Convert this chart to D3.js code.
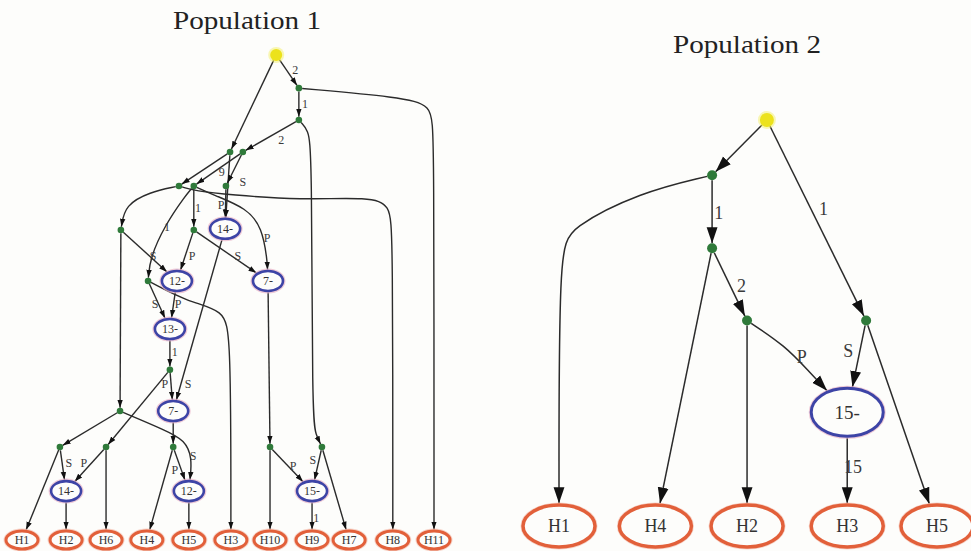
<!DOCTYPE html>
<html><head><meta charset="utf-8">
<script src="https://cdn.jsdelivr.net/npm/d3@7"></script>
<style>body{margin:0;background:#fdfdfb}svg{display:block}</style>
</head><body>
<svg id="c" width="971" height="551"></svg>
<script>
// ---------------- DATA ----------------
const titles = ["Population 1", "Population 2"];

// Population 1
const leaves1 = ["H1","H2","H6","H4","H5","H3","H10","H9","H7","H8","H11"];
const recomb1 = [["n14a","14-"],["n12a","12-"],["n7a","7-"],["n13","13-"],["n7b","7-"],["n14b","14-"],["n12b","12-"],["n15","15-"]];
const inner1 = ["A","B","D","C","E","F","G","H","J","I","K1","L","M","O","Q","T","K"];
const root1 = "R";
const edges1 = [
  ["R","A","2"],["R","D",""],["A","B","1"],["A","H11",""],["B","C","2"],["B","K",""],
  ["D","E",""],["D","n14a","S"],["C","F","9"],["C","G",""],
  ["E","H",""],["E","H8",""],["F","J","1"],["F","I","1"],["F","n7a","P"],["G","n14a","P"],
  ["H","n12a","S"],["H","L",""],["J","n12a","P"],["J","n7a","S"],
  ["n14a","n7b","S"],["I","n13","S"],["I","H3",""],["n12a","n13","P"],
  ["n13","K1","1"],["K1","n7b","P"],["K1","O",""],["n7a","T",""],["n7b","Q",""],
  ["L","M",""],["L","n12b","S"],["M","H1",""],["M","n14b","S"],["O","n14b","P"],["O","H6",""],
  ["Q","n12b","P"],["Q","H4",""],["n14b","H2",""],["n12b","H5",""],
  ["T","H10",""],["T","n15","P"],["K","n15","S"],["K","H7",""],["n15","H9","1"]
];

// Population 2
const leaves2 = ["H1","H4","H2","H3","H5"];
const recomb2 = [["n15","15-"]];
const inner2 = ["a","b","c","d"];
const root2 = "r";
const edges2 = [
  ["r","a",""],["r","d","1"],["a","b","1"],["a","H1",""],["b","H4",""],["b","c","2"],
  ["c","H2",""],["c","n15","P"],["d","n15","S"],["d","H5",""],["n15","H3","15"]
];

// ---------------- LAYOUT (abstract units: leaf column, rank) ----------------
const layout1 = {
  R:[6.17,0], A:[6.72,0.82], B:[6.72,1.61], D:[5.05,2.40], C:[5.36,2.40],
  E:[3.81,3.24], F:[4.17,3.24], G:[4.95,3.24], H:[2.40,4.33], J:[4.17,4.33],
  n14a:[4.93,4.30], n12a:[3.76,5.59], n7a:[5.97,5.59], I:[3.06,5.59],
  n13:[3.59,6.78], K1:[3.59,7.79], n7b:[3.67,8.81], L:[2.38,8.81],
  M:[0.92,9.70], O:[2.04,9.70], Q:[3.67,9.70], T:[6.02,9.70], K:[7.28,9.70],
  n14b:[1.07,10.79], n12b:[4.05,10.79], n15:[7.04,10.79],
  H1:[0,12], H2:[1.07,12], H6:[2.04,12], H4:[3.03,12], H5:[4.05,12], H3:[5.07,12],
  H10:[6.02,12], H9:[7.04,12], H7:[7.94,12], H8:[9.0,12], H11:[10,12]
};
const routes1 = {
  "A-H11":[[9.17,1.04],[9.95,1.24],[10,1.86]],
  "B-K":[[6.94,1.85],[7.04,2.35],[7.04,9.03],[7.14,9.4]],
  "E-H":[[3.11,3.39],[2.50,3.71]],
  "E-H8":[[4.2,3.36],[5.05,3.46],[6.75,3.59],[8.45,3.51],[8.93,3.71],[9.0,4.4]],
  "F-I":[[3.96,3.49],[3.47,4.21],[3.11,5.02]],
  "F-n7a":[[4.64,3.46],[5.46,3.79],[5.83,4.28],[5.95,5.07]],
  "I-H3":[[4.03,6.11],[4.90,6.31],[5.07,6.93]],
  "L-n12b":[[3.47,9.28],[3.96,9.53],[4.13,9.97]]
};
const labelAt1 = {
  "R-A":[6.63,0.37], "A-B":[6.87,1.21], "B-C":[6.29,2.10], "C-F":[4.85,2.89],
  "D-n14a":[5.36,3.14], "G-n14a":[4.83,3.71], "F-J":[4.27,3.79], "F-I":[3.52,4.26],
  "F-n7a":[5.95,4.53], "H-n12a":[3.18,4.97], "J-n12a":[4.13,4.97], "J-n7a":[5.24,4.97],
  "I-n13":[3.23,6.16], "n12a-n13":[3.79,6.16], "n13-K1":[3.71,7.35], "K1-n7b":[3.47,8.14],
  "n14a-n7b":[4.03,8.14], "L-n12b":[4.15,9.92], "Q-n12b":[3.71,10.27], "M-n14b":[1.14,10.09],
  "O-n14b":[1.50,10.09], "T-n15":[6.58,10.17], "K-n15":[7.06,10.02], "n15-H9":[7.14,11.45]
};

const layout2 = {
  r:[2.2,0], a:[1.62,0.68], b:[1.62,1.58], c:[1.99,2.47], d:[3.25,2.47], n15:[3.05,3.6],
  H1:[0,5], H4:[1.02,5], H2:[1.99,5], H3:[3.05,5], H5:[4,5]
};
const routes2 = {
  "a-H1":[[0.86,0.89],[0.12,1.33],[0,1.6]],
  "c-n15":[[2.39,2.78],[2.64,3.09]]
};
const labelAt2 = {
  "a-b":[1.69,1.14], "r-d":[2.80,1.09], "b-c":[1.93,2.04], "c-n15":[2.57,2.91],
  "d-n15":[3.06,2.84], "n15-H3":[3.11,4.27]
};

// ---------------- DRAW ----------------
const svg = d3.select("#c");
svg.append("rect").attr("width",971).attr("height",551).attr("fill","#fdfdfb");
const defs = svg.append("defs");

const FONT = "'Liberation Serif','DejaVu Serif',serif";

const panels = [
  { title: titles[0], titleX: 247, titleY: 29, titleSize: 26, titleLen: 148,
    leaves: leaves1, recomb: recomb1, inner: inner1, root: root1, edges: edges1,
    layout: layout1, routes: routes1, labelAt: labelAt1,
    x: d3.scaleLinear().domain([0,10]).range([22,434]),
    y: d3.scaleLinear().domain([0,12]).range([55,540]),
    rootR: 6, innerR: 3.3, recRx: 15, recRy: 10, recW: 2.6, leafRx: 16, leafRy: 9, leafW: 3,
    edgeW: 1.4, labelSize: 12, nodeText: 12, leafText: 12, arrow: 8, id: "m1" },
  { title: titles[1], titleX: 747, titleY: 53, titleSize: 26, titleLen: 148,
    leaves: leaves2, recomb: recomb2, inner: inner2, root: root2, edges: edges2,
    layout: layout2, routes: routes2, labelAt: labelAt2,
    x: d3.scaleLinear().domain([0,4]).range([559,937]),
    y: d3.scaleLinear().domain([0,5]).range([120,526]),
    rootR: 7, innerR: 5, recRx: 36, recRy: 24, recW: 3, leafRx: 36, leafRy: 21, leafW: 3.5,
    edgeW: 1.5, labelSize: 18, nodeText: 19, leafText: 18, arrow: 16, id: "m2" }
];

panels.forEach(p => {
  defs.append("marker").attr("id", p.id)
    .attr("viewBox","0 -5 10 10").attr("refX",10).attr("refY",0)
    .attr("markerWidth",p.arrow).attr("markerHeight",p.arrow)
    .attr("markerUnits","userSpaceOnUse").attr("orient","auto")
    .append("path").attr("d","M0,-3.4L10,0L0,3.4Z").attr("fill","#111");

  const g = svg.append("g");
  g.append("text").attr("x",p.titleX).attr("y",p.titleY).attr("text-anchor","middle")
    .attr("font-family",FONT).attr("font-size",p.titleSize).attr("fill","#222")
    .attr("textLength",p.titleLen).attr("lengthAdjust","spacingAndGlyphs").text(p.title);

  // node table
  const nodes = {};
  const add = (id, type, label) => {
    const [u,v] = p.layout[id];
    nodes[id] = {id, type, label, x: p.x(u), y: p.y(v)};
  };
  add(p.root, "root", "");
  p.inner.forEach(id => add(id, "inner", ""));
  p.recomb.forEach(([id,l]) => add(id, "rec", l));
  p.leaves.forEach(id => add(id, "leaf", id));

  const shape = n => n.type === "root" ? [p.rootR,p.rootR] : n.type === "inner" ? [p.innerR,p.innerR]
    : n.type === "rec" ? [p.recRx + p.recW/2, p.recRy + p.recW/2] : [p.leafRx + p.leafW/2, p.leafRy + p.leafW/2];
  const clip = (n, toward) => {
    const dx = toward[0]-n.x, dy = toward[1]-n.y, len = Math.hypot(dx,dy) || 1;
    const ux = dx/len, uy = dy/len; const [rx,ry] = shape(n);
    const d = 1/Math.sqrt((ux/rx)**2 + (uy/ry)**2);
    return [n.x + ux*d, n.y + uy*d];
  };

  const line = d3.line().curve(d3.curveBasis);
  const eg = g.append("g");
  p.edges.forEach(([s,t,lab]) => {
    const key = s + "-" + t;
    const S = nodes[s], T = nodes[t];
    const via = (p.routes[key] || []).map(([u,v]) => [p.x(u), p.y(v)]);
    const first = via.length ? via[0] : [T.x,T.y];
    const last = via.length ? via[via.length-1] : [S.x,S.y];
    const pts = [clip(S, first), ...via, clip(T, last)];
    eg.append("path").attr("d", line(pts)).attr("fill","none")
      .attr("stroke","#2b2b2b").attr("stroke-width",p.edgeW)
      .attr("marker-end","url(#"+p.id+")");
    if (lab && p.labelAt[key]) {
      const [u,v] = p.labelAt[key];
      eg.append("text").attr("x",p.x(u)).attr("y",p.y(v)).attr("dy","0.35em")
        .attr("text-anchor","middle").attr("font-family",FONT)
        .attr("font-size",p.labelSize).attr("fill","#3a3a3a").text(lab);
    }
  });

  const ng = g.append("g");
  Object.values(nodes).forEach(n => {
    if (n.type === "root") {
      ng.append("circle").attr("cx",n.x).attr("cy",n.y).attr("r",p.rootR+2).attr("fill","#f4ef6a").attr("opacity",0.5);
      ng.append("circle").attr("cx",n.x).attr("cy",n.y).attr("r",p.rootR).attr("fill","#ece21c");
    } else if (n.type === "inner") {
      ng.append("circle").attr("cx",n.x).attr("cy",n.y).attr("r",p.innerR).attr("fill","#2f7a3a");
    } else if (n.type === "rec") {
      ng.append("ellipse").attr("cx",n.x).attr("cy",n.y).attr("rx",p.recRx+1.5).attr("ry",p.recRy+1.5)
        .attr("fill","none").attr("stroke","#e8b4c8").attr("stroke-width",2).attr("opacity",0.7);
      ng.append("ellipse").attr("cx",n.x).attr("cy",n.y).attr("rx",p.recRx).attr("ry",p.recRy)
        .attr("fill","#fdfdfb").attr("stroke","#3d44a6").attr("stroke-width",p.recW);
      ng.append("text").attr("x",n.x).attr("y",n.y).attr("dy","0.35em").attr("text-anchor","middle")
        .attr("font-family",FONT).attr("font-size",p.nodeText).attr("fill","#333").text(n.label);
    } else {
      ng.append("ellipse").attr("cx",n.x).attr("cy",n.y).attr("rx",p.leafRx+1.5).attr("ry",p.leafRy+1.5)
        .attr("fill","none").attr("stroke","#f3c2b4").attr("stroke-width",2).attr("opacity",0.7);
      ng.append("ellipse").attr("cx",n.x).attr("cy",n.y).attr("rx",p.leafRx).attr("ry",p.leafRy)
        .attr("fill","#fdfdfb").attr("stroke","#e2603a").attr("stroke-width",p.leafW);
      ng.append("text").attr("x",n.x).attr("y",n.y).attr("dy","0.35em").attr("text-anchor","middle")
        .attr("font-family",FONT).attr("font-size",p.leafText).attr("fill","#333").text(n.label);
    }
  });
});
</script>
</body></html>
